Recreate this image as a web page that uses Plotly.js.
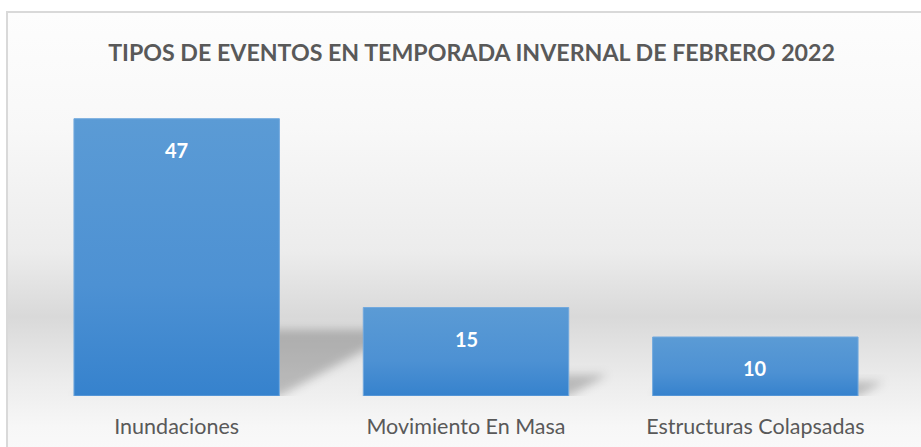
<!DOCTYPE html>
<html>
<head>
<meta charset="utf-8">
<script src="https://cdn.plot.ly/plotly-3.0.1.min.js"></script>
<style>
  html, body { margin:0; padding:0; width:921px; height:447px; overflow:hidden; background:#ffffff; }
  #frame { position:absolute; left:6px; top:11px; width:940px; height:460px;
    border-left:2px solid #d9d9d9; border-top:2px solid #d9d9d9;
    background: linear-gradient(to bottom, #fdfdfd 0%, #f8f8f8 25%, #ececec 52%, #d9d9d9 66%, #ececec 80%, #f7f7f7 90%, #fbfbfb 100%); }
  #chart { position:absolute; left:0; top:0; width:921px; height:447px; }
</style>
</head>
<body>
<div id="frame"></div>
<div id="chart"></div>
<script>
const categories = ["Inundaciones", "Movimiento En Masa", "Estructuras Colapsadas"];
const values = [47, 15, 10];
const chartTitle = "TIPOS DE EVENTOS EN TEMPORADA INVERNAL DE FEBRERO 2022";

const trace = {
  type: "bar",
  x: categories,
  y: values,
  width: 0.71,
  marker: { color: "#4a8fd3", line: { width: 1, color: "#72a9de" } },
  hoverinfo: "x+y"
};

const annotations = categories.map((c, i) => ({
  x: c, y: values[i], xref: "x", yref: "y",
  text: "<b>" + String(values[i]) + "</b>", showarrow: false, yshift: -31,
  font: { family: "Lato, 'Open Sans', sans-serif", size: 20, color: "#ffffff" }
}));

const layout = {
  width: 921, height: 447,
  paper_bgcolor: "rgba(0,0,0,0)",
  plot_bgcolor: "rgba(0,0,0,0)",
  margin: { l: 32, r: 21, t: 101, b: 51 },
  title: { text: "<b>" + chartTitle + "</b>", x: 0.512, xanchor: "center", y: 0.882, yanchor: "middle",
    font: { family: "Lato, sans-serif", size: 23.2, color: "#595959" } },
  xaxis: { type: "category", showgrid: false, zeroline: false, showline: false, ticks: "",
    ticklabelstandoff: 15,
    tickfont: { family: "Lato, sans-serif", size: 21.5, color: "#595959" } },
  yaxis: { range: [0, 50], visible: false, showgrid: false, zeroline: false },
  showlegend: false,
  bargap: 0.29,
  annotations: annotations
};

Plotly.newPlot("chart", [trace], layout, { displayModeBar: false, staticPlot: true }).then(gd => {
  const svg = gd.querySelector("svg.main-svg");
  const ns = "http://www.w3.org/2000/svg";
  let defs = svg.querySelector("defs");
  const lg = document.createElementNS(ns, "linearGradient");
  lg.setAttribute("id", "barGrad");
  lg.setAttribute("x1", "0"); lg.setAttribute("y1", "0");
  lg.setAttribute("x2", "0"); lg.setAttribute("y2", "1");
  [["0", "#5b9bd5"], ["0.6", "#4d91d3"], ["1", "#3682cd"]].forEach(([o, c]) => {
    const s = document.createElementNS(ns, "stop");
    s.setAttribute("offset", o); s.setAttribute("stop-color", c);
    lg.appendChild(s);
  });
  defs.appendChild(lg);
  const flt = document.createElementNS(ns, "filter");
  flt.setAttribute("id", "shBlur");
  flt.setAttribute("x", "-50%"); flt.setAttribute("y", "-50%");
  flt.setAttribute("width", "200%"); flt.setAttribute("height", "200%");
  const gb = document.createElementNS(ns, "feGaussianBlur");
  gb.setAttribute("stdDeviation", "5");
  flt.appendChild(gb);
  defs.appendChild(flt);

  const paths = gd.querySelectorAll(".bars .point path");
  const barlayer = gd.querySelector(".barlayer");
  const shadowG = document.createElementNS(ns, "g");
  paths.forEach(p => {
    p.style.fill = "url(#barGrad)";
    const b = p.getBBox();
    const H = b.height * 0.24, s = H * 1.85;
    const x0 = b.x, x1 = b.x + b.width, yb = b.y + b.height;
    const poly = document.createElementNS(ns, "polygon");
    poly.setAttribute("points", `${x0},${yb} ${x1},${yb} ${x1 + s},${yb - H} ${x0 + s},${yb - H}`);
    poly.setAttribute("fill", "rgba(0,0,0,0.22)");
    poly.setAttribute("filter", "url(#shBlur)");
    shadowG.appendChild(poly);
  });
  barlayer.insertBefore(shadowG, barlayer.firstChild);
});
</script>
</body>
</html>
